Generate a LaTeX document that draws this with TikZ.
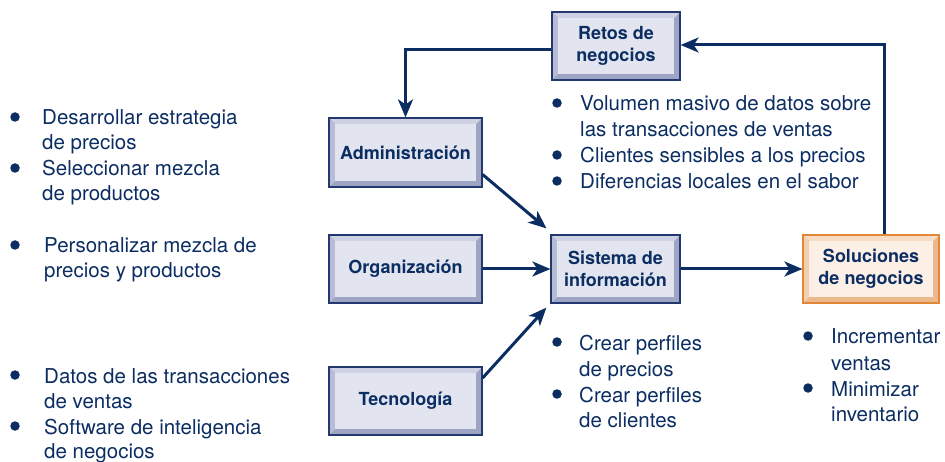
\documentclass[tikz,border=0pt]{standalone}
\usepackage{fontspec}
\setmainfont{TeX Gyre Heros}
\usetikzlibrary{arrows.meta}
\definecolor{navy}{HTML}{0B2D62}
\definecolor{bborder}{HTML}{23386E}
\definecolor{blight}{HTML}{CDD1E3}
\definecolor{bmid}{HTML}{B7BCD5}
\definecolor{bdark}{HTML}{9EA5C4}
\definecolor{bface}{HTML}{E2E5EF}
\definecolor{oborder}{HTML}{E08838}
\definecolor{olight}{HTML}{F8DDC4}
\definecolor{omid}{HTML}{F3CFAE}
\definecolor{odark}{HTML}{EBB98C}
\definecolor{oface}{HTML}{FCEFE5}
\newcommand\bevelpic[4]{%
 \fill[#3] (path picture bounding box.south west) rectangle (path picture bounding box.north east);
 \fill[#1] (path picture bounding box.north west) -- (path picture bounding box.north east) -- ([shift={(-6pt,-6pt)}]path picture bounding box.north east) -- ([shift={(6pt,-6pt)}]path picture bounding box.north west) -- cycle;
 \fill[#2] (path picture bounding box.north west) -- ([shift={(6pt,-6pt)}]path picture bounding box.north west) -- ([shift={(6pt,6pt)}]path picture bounding box.south west) -- (path picture bounding box.south west) -- cycle;
 \fill[#4] ([shift={(6pt,-6pt)}]path picture bounding box.north west) rectangle ([shift={(-6pt,6pt)}]path picture bounding box.south east);
}
\tikzset{
 boxbase/.style={rectangle, line width=1.2pt, align=center, text=navy, inner sep=0pt,
   font=\bfseries\fontsize{18}{22}\selectfont, minimum height=68pt},
 bluebox/.style={boxbase, draw=bborder, path picture={\bevelpic{blight}{bmid}{bdark}{bface}}},
 orangebox/.style={boxbase, draw=oborder, path picture={\bevelpic{olight}{omid}{odark}{oface}}},
 arr/.style={draw=navy, line width=3pt, -{Stealth[length=18pt,width=15pt,inset=5pt]}},
 ln/.style={anchor=base west, inner sep=0pt, text=navy, font=\fontsize{20.5}{25}\selectfont},
 bul/.style={circle, fill=navy, inner sep=0pt, minimum size=9.5pt},
}
\begin{document}
\begin{tikzpicture}[x=1pt,y=-1pt]
\useasboundingbox (0,0) rectangle (945,462);
% boxes
\node[bluebox, minimum width=128pt] (retos) at (616,46) {Retos de\\negocios};
\node[bluebox, minimum width=153pt, minimum height=69pt] (admin) at (405.5,152.5) {Administración};
\node[bluebox, minimum width=153pt] (org) at (405.5,269) {Organización};
\node[bluebox, minimum width=153pt] (tec) at (405.5,401) {Tecnología};
\node[bluebox, minimum width=129pt] (sis) at (615.5,269) {Sistema de\\información};
\node[orangebox, minimum width=136pt] (sol) at (871,269) {Soluciones\\de negocios};
% connectors
\draw[arr] ([yshift=-4pt]retos.west) -| (admin.north);
\draw[arr] ([xshift=13pt]sol.north) |- ([yshift=1pt]retos.east);
\draw[arr] ([yshift=-22pt]admin.east) -- ([xshift=-4pt,yshift=6pt]sis.north west);
\draw[arr] (org.east) -- (sis.west);
\draw[arr] ([yshift=23pt]tec.east) -- ([xshift=-4pt,yshift=-4pt]sis.south west);
\draw[arr] (sis.east) -- (sol.west);
% left texts
\node[bul] (lb1) at (15,117) {};
\node[ln] (l1a) at (42,125) {Desarrollar estrategia};
\node[ln] (l1b) at (42,150) {de precios};
\node[bul] (lb2) at (15,168) {};
\node[ln] (l2a) at (42,176) {Seleccionar mezcla};
\node[ln] (l2b) at (42,201) {de productos};
\node[bul] (lb3) at (15,245) {};
\node[ln] (l3a) at (44,253) {Personalizar mezcla de};
\node[ln] (l3b) at (44,278) {precios y productos};
\node[bul] (lb4) at (15,375) {};
\node[ln] (l4a) at (44,383) {Datos de las transacciones};
\node[ln] (l4b) at (44,408) {de ventas};
\node[bul] (lb5) at (15,426) {};
\node[ln] (l5a) at (44,434) {Software de inteligencia};
\node[ln] (l5b) at (44,458) {de negocios};
% retos texts
\node[bul] (rb1) at (557,103) {};
\node[ln] (r1a) at (580,111) {Volumen masivo de datos sobre};
\node[ln] (r1b) at (580,137) {las transacciones de ventas};
\node[bul] (rb2) at (557,155) {};
\node[ln] (r2a) at (580,163) {Clientes sensibles a los precios};
\node[bul] (rb3) at (557,181) {};
\node[ln] (r3a) at (580,189) {Diferencias locales en el sabor};
% sistema texts
\node[bul] (sb1) at (557,342) {};
\node[ln] (s1a) at (579,350) {Crear perfiles};
\node[ln] (s1b) at (579,376) {de precios};
\node[bul] (sb2) at (557,394) {};
\node[ln] (s2a) at (579,402) {Crear perfiles};
\node[ln] (s2b) at (579,427) {de clientes};
% soluciones texts
\node[bul] (ob1) at (808,336) {};
\node[ln] (o1a) at (831,344) {Incrementar};
\node[ln] (o1b) at (831,370) {ventas};
\node[bul] (ob2) at (808,388) {};
\node[ln] (o2a) at (831,396) {Minimizar};
\node[ln] (o2b) at (831,421) {inventario};
\end{tikzpicture}
\end{document}
